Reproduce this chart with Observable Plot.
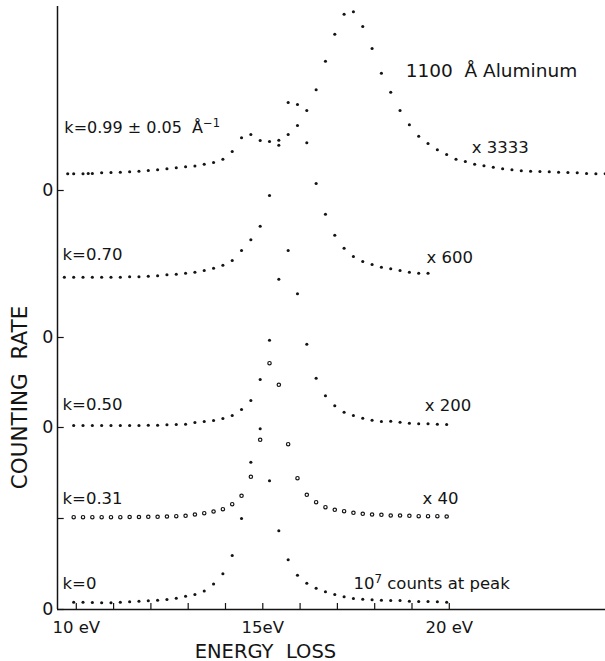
<!DOCTYPE html>
<html>
<head>
<meta charset="utf-8">
<script src="https://cdn.jsdelivr.net/npm/d3@7"></script>
<script src="https://cdn.jsdelivr.net/npm/@observablehq/plot@0.6"></script>
<style>
  html, body { margin: 0; padding: 0; background: #ffffff; }
  #chart { width: 605px; height: 661px; }
</style>
</head>
<body>
<div id="chart"></div>
<script>
// ---- Data (energy loss in eV, counting rate in arbitrary units above each curve's own zero) ----
const energyGrid = [9.93, 10.18, 10.43, 10.68, 10.93, 11.18, 11.43, 11.68, 11.93, 12.18, 12.43, 12.68, 12.93, 13.18, 13.43, 13.68, 13.93, 14.18, 14.43, 14.68, 14.93, 15.18, 15.43, 15.68, 15.93, 16.18, 16.43, 16.68, 16.93, 17.18, 17.43, 17.68, 17.93, 18.18, 18.43, 18.68, 18.93, 19.18, 19.43, 19.68, 19.93];
const energyK070 = [9.68, 9.93, 10.18, 10.43, 10.68, 10.93, 11.18, 11.43, 11.68, 11.93, 12.18, 12.43, 12.68, 12.93, 13.18, 13.43, 13.68, 13.93, 14.18, 14.43, 14.68, 14.93, 15.18, 15.43, 15.68, 15.93, 16.18, 16.43, 16.68, 16.93, 17.18, 17.43, 17.68, 17.93, 18.18, 18.43, 18.68, 18.93, 19.18, 19.43];
const energyK099 = [9.77, 9.93, 10.18, 10.32, 10.43, 10.68, 10.93, 11.18, 11.43, 11.68, 11.93, 12.18, 12.43, 12.68, 12.93, 13.18, 13.43, 13.68, 13.93, 14.18, 14.43, 14.68, 14.93, 15.18, 15.43, 15.68, 15.93, 16.18, 16.43, 16.68, 16.93, 17.18, 17.43, 17.68, 17.93, 18.18, 18.43, 18.68, 18.93, 19.18, 19.43, 19.68, 19.93, 20.18, 20.43, 20.68, 20.93, 21.18, 21.43, 21.68, 21.93, 22.18, 22.43, 22.68, 22.93, 23.18, 23.43, 23.68, 23.93, 24.18];

const rateK000 = [7.3, 7.3, 7, 6.7, 6.7, 7.3, 7.7, 8.3, 8.7, 9.3, 10, 11.3, 13.3, 15, 18.5, 25.5, 35.7, 54, 91, 147.3, 180.7, 128.7, 78.7, 49.7, 34.3, 26.3, 21.3, 17.7, 15, 12.7, 11, 10.3, 9.7, 9.3, 9, 9, 8.3, 8, 8, 7.7, 7.3];
const rateK031 = [1.3, 1.3, 1.3, 1.3, 1.3, 1.3, 1.5, 1.5, 1.7, 1.7, 2, 2.3, 2.7, 4, 5.3, 7, 9.3, 14.3, 22.7, 41.7, 78.7, 155.3, 133.7, 74.3, 40.3, 23.7, 16.3, 11.3, 8.7, 7.3, 5.7, 4.7, 4, 3.7, 3, 3, 2.7, 2.3, 2.3, 2.3, 2];
const rateK050 = [2, 2, 2, 2, 2, 2, 2, 2, 2.3, 2.3, 2.7, 3, 3.3, 5, 6, 7, 9, 12, 18, 27, 48, 87.3, 148.3, 177, 133.7, 83.3, 49.3, 31.7, 21.7, 15.3, 12, 9.3, 7.3, 6, 6.3, 5.3, 4.3, 3.7, 3.7, 3.3, 3];
const rateK070 = [60.3, 60.3, 60.3, 60.3, 60.3, 60.3, 60.3, 60.7, 60.7, 61.3, 61.7, 62.7, 63.3, 64.3, 65.3, 67, 69.3, 72.3, 77, 87, 97.7, 111.3, 142, 192.3, 235, 233, 194.7, 154, 123.3, 102.3, 89.3, 81, 76, 73, 70.3, 68.7, 67, 65.3, 64.3, 64.3];
const rateK099 = [16.7, 16.7, 16.7, 17, 17, 17.7, 18, 18.3, 18.7, 19.3, 20, 20.7, 21.7, 22.7, 23.7, 24.5, 26.2, 28, 31.3, 39, 52.7, 56, 50, 49, 50.3, 56, 65, 80, 100.7, 129.3, 156.3, 176.3, 178.7, 164, 142, 117.3, 98.3, 80, 65.7, 54.3, 47, 40.7, 36, 31.3, 29, 26.3, 24.7, 23.3, 21.7, 20.7, 19.7, 19.3, 19, 18.7, 18.3, 18, 17.7, 17, 16.7, 16.7];

// zero level of each stacked curve on the common counting-rate scale
const curveNames = ["k=0", "k=0.31", "k=0.50", "k=0.70", "k=0.99"];
const zeroLevels = [0, 91, 182, 272, 419];
const zeroLabels = ["0", "", "0", "0", "0"];
const multipliers = ["10\u2077 counts at peak", "x 40", "x 200", "x 600", "x 3333"];

const xTickValues = [10, 11, 12, 13, 14, 15, 16, 17, 18, 19, 20];
const xLabelValues = [10, 15, 20];
const xLabels = ["10 eV", "15eV", "20 eV"];

// ---- Build table ----
const energySets = [energyGrid, energyGrid, energyGrid, energyK070, energyK099];
const rateSets = [rateK000, rateK031, rateK050, rateK070, rateK099];
const rows = curveNames.flatMap((name, i) =>
  energySets[i].map((e, j) => ({curve: name, energy: e, value: zeroLevels[i] + rateSets[i][j]}))
);
const labeledZeros = zeroLevels.map((v, i) => ({v, label: zeroLabels[i]})).filter(d => d.label);

const ink = "#141414";
const X0 = 9.496, X1 = 24.188;

const chart = Plot.plot({
  width: 605,
  height: 661,
  marginLeft: 57,
  marginRight: 0,
  marginTop: 6,
  marginBottom: 52,
  x: {domain: [X0, X1], axis: null},
  y: {domain: [0, 603], axis: null},
  style: {background: "#ffffff", fontFamily: "'DejaVu Sans', sans-serif", color: ink, overflow: "visible"},
  marks: [
    // axes lines
    Plot.ruleY([0], {stroke: ink, strokeWidth: 1.5}),
    Plot.ruleX([X0], {stroke: ink, strokeWidth: 1.5}),
    // x ticks (inward)
    Plot.ruleX(xTickValues, {x: d => d, y1: 0, y2: 6, stroke: ink, strokeWidth: 1.2}),
    // y zero ticks (inward)
    Plot.ruleY(zeroLevels, {y: d => d, x1: X0, x2: X0 + 0.18, stroke: ink, strokeWidth: 1.2}),
    // tick labels
    Plot.text(xLabelValues, {x: d => d, y: 0, text: (d, i) => xLabels[i], dy: 23, lineAnchor: "bottom", fontSize: 16.5, fill: ink}),
    Plot.text(labeledZeros, {x: X0, y: "v", text: "label", dx: -4, textAnchor: "end", lineAnchor: "middle", fontSize: 17.5, fill: ink}),
    // axis titles
    Plot.text(["ENERGY  LOSS"], {x: 15.07, y: 0, dy: 48, lineAnchor: "bottom", fontSize: 19.5, fill: ink, text: d => d}),
    Plot.text(["COUNTING  RATE"], {x: X0, y: 212, dx: -37, rotate: -90, lineAnchor: "middle", fontSize: 21.5, fill: ink, text: d => d}),
    // data points
    Plot.dot(rows.filter(d => d.curve !== "k=0.31"), {x: "energy", y: "value", r: 1.55, fill: ink, stroke: null}),
    Plot.dot(rows.filter(d => d.curve === "k=0.31"), {x: "energy", y: "value", r: 1.7, fill: "#ffffff", stroke: ink, strokeWidth: 1.2}),
    // annotations
    Plot.text(["1100 \u00a0\u00c5 Aluminum"], {x: 18.83, y: 533, text: d => d, textAnchor: "start", lineAnchor: "bottom", fontSize: 18.5, fill: ink}),
    Plot.text(["k=0.99 \u00b1 0.05 \u00a0\u00c5\u207b\u00b9"], {x: 9.68, y: 477, text: d => d, textAnchor: "start", lineAnchor: "bottom", fontSize: 16, fill: ink}),
    Plot.text([curveNames[3]], {x: 9.63, y: 350, text: d => d, textAnchor: "start", lineAnchor: "bottom", fontSize: 16.5, fill: ink}),
    Plot.text([curveNames[2]], {x: 9.63, y: 200, text: d => d, textAnchor: "start", lineAnchor: "bottom", fontSize: 16.5, fill: ink}),
    Plot.text([curveNames[1]], {x: 9.63, y: 106, text: d => d, textAnchor: "start", lineAnchor: "bottom", fontSize: 16.5, fill: ink}),
    Plot.text([curveNames[0]], {x: 9.63, y: 21, text: d => d, textAnchor: "start", lineAnchor: "bottom", fontSize: 16.5, fill: ink}),
    Plot.text([multipliers[4]], {x: 20.6, y: 457, text: d => d, textAnchor: "start", lineAnchor: "bottom", fontSize: 16.5, fill: ink}),
    Plot.text([multipliers[3]], {x: 19.39, y: 347, text: d => d, textAnchor: "start", lineAnchor: "bottom", fontSize: 16.5, fill: ink}),
    Plot.text([multipliers[2]], {x: 19.34, y: 199, text: d => d, textAnchor: "start", lineAnchor: "bottom", fontSize: 16.5, fill: ink}),
    Plot.text([multipliers[1]], {x: 19.28, y: 106, text: d => d, textAnchor: "start", lineAnchor: "bottom", fontSize: 16.5, fill: ink}),
    Plot.text([multipliers[0]], {x: 17.43, y: 21, text: d => d, textAnchor: "start", lineAnchor: "bottom", fontSize: 16.5, fill: ink})
  ]
});

// Render superscripts (⁷, ⁻¹) as larger raised tspans, like the lettering in the original.
const supMap = {"\u2077": "7", "\u207b": "\u2212", "\u00b9": "1"};
d3.select(chart).selectAll("text").each(function () {
  const t = this.textContent;
  if (!/[\u2077\u207b\u00b9]/.test(t)) return;
  const segs = [];
  for (const ch of t) {
    const isSup = !!supMap[ch];
    const c = isSup ? supMap[ch] : ch;
    const last = segs[segs.length - 1];
    if (last && last.sup === isSup) last.text += c;
    else segs.push({text: c, sup: isSup});
  }
  const el = d3.select(this);
  el.text(null);
  segs.forEach((s, i) => {
    const ts = el.append("tspan").text(s.text);
    if (s.sup) ts.attr("dy", "-0.45em").attr("font-size", "0.72em");
    else if (i > 0 && segs[i - 1].sup) ts.attr("dy", "0.324em");
  });
});

document.getElementById("chart").appendChild(chart);
</script>
</body>
</html>
